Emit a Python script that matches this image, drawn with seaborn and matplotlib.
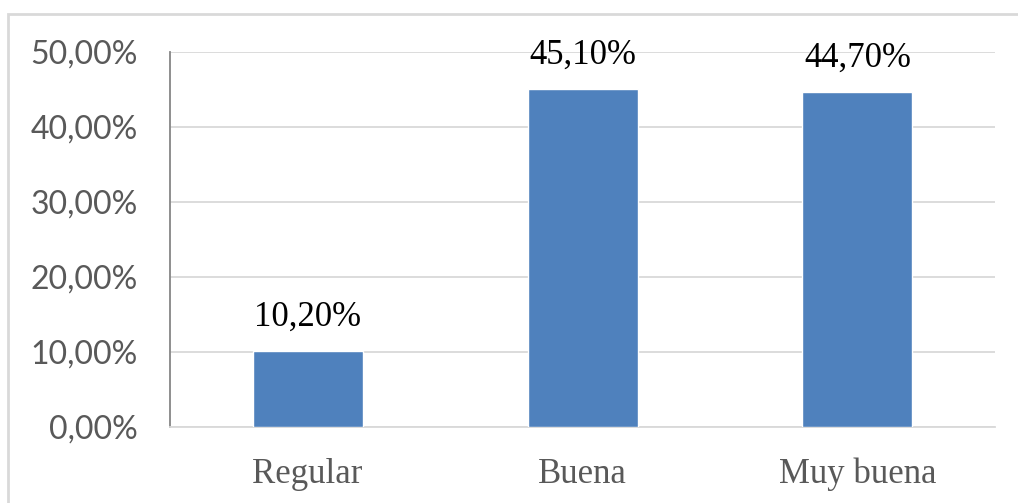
import matplotlib
matplotlib.use("Agg")
import matplotlib.pyplot as plt
import seaborn as sns
import pandas as pd
from matplotlib.patches import Rectangle

categories = ["Regular", "Buena", "Muy buena"]
values = [10.20, 45.10, 44.70]
yticks = [0, 10, 20, 30, 40, 50]
ytick_labels = ["0,00%", "10,00%", "20,00%", "30,00%", "40,00%", "50,00%"]

sns.set_theme(style="white")
plt.rcParams['font.family'] = ['Liberation Serif', 'DejaVu Serif']

df = pd.DataFrame({"cat": categories, "val": values})

fig = plt.figure(figsize=(10.18, 5.03), dpi=100)
ax = fig.add_axes([170/1018, 1-427/503, (995-170)/1018, (427-52)/503])

sns.barplot(data=df, x="cat", y="val", color="#4F81BD", width=0.4,
            saturation=1, ax=ax, zorder=3)

ax.set_ylim(0, 50)
ax.set_yticks(yticks)
ax.set_yticklabels(ytick_labels, fontfamily="Lato", fontsize=23, color="#595959")
ax.set_xlabel("")
ax.set_ylabel("")
for lab in ax.get_xticklabels():
    lab.set_fontsize(25)
    lab.set_color("#595959")
    lab.set_fontfamily("Liberation Serif")
ax.tick_params(axis="both", length=0)
ax.tick_params(axis="y", pad=23)
ax.tick_params(axis="x", pad=22)

ax.grid(axis="y", color="#d9d9d9", linewidth=1.3, zorder=0)
ax.set_axisbelow(True)
for s in ["top", "right"]:
    ax.spines[s].set_visible(False)
ax.spines["left"].set_color("#868686")
ax.spines["left"].set_linewidth(1.3)
ax.spines["bottom"].set_color("#d9d9d9")
ax.spines["bottom"].set_linewidth(1.3)

for i, v in enumerate(values):
    ax.annotate(f"{v:.2f}%".replace(".", ","), xy=(i, v), xytext=(0, 12),
                textcoords="offset points", ha="center", va="bottom",
                fontsize=25, color="black", fontfamily="Liberation Serif")

fig.add_artist(Rectangle((8/1018, -0.1), 1.2, (503-14)/503 + 0.1,
                         transform=fig.transFigure, fill=False,
                         edgecolor="#d9d9d9", linewidth=2))

fig.savefig("out.png", dpi=100, facecolor="white")
